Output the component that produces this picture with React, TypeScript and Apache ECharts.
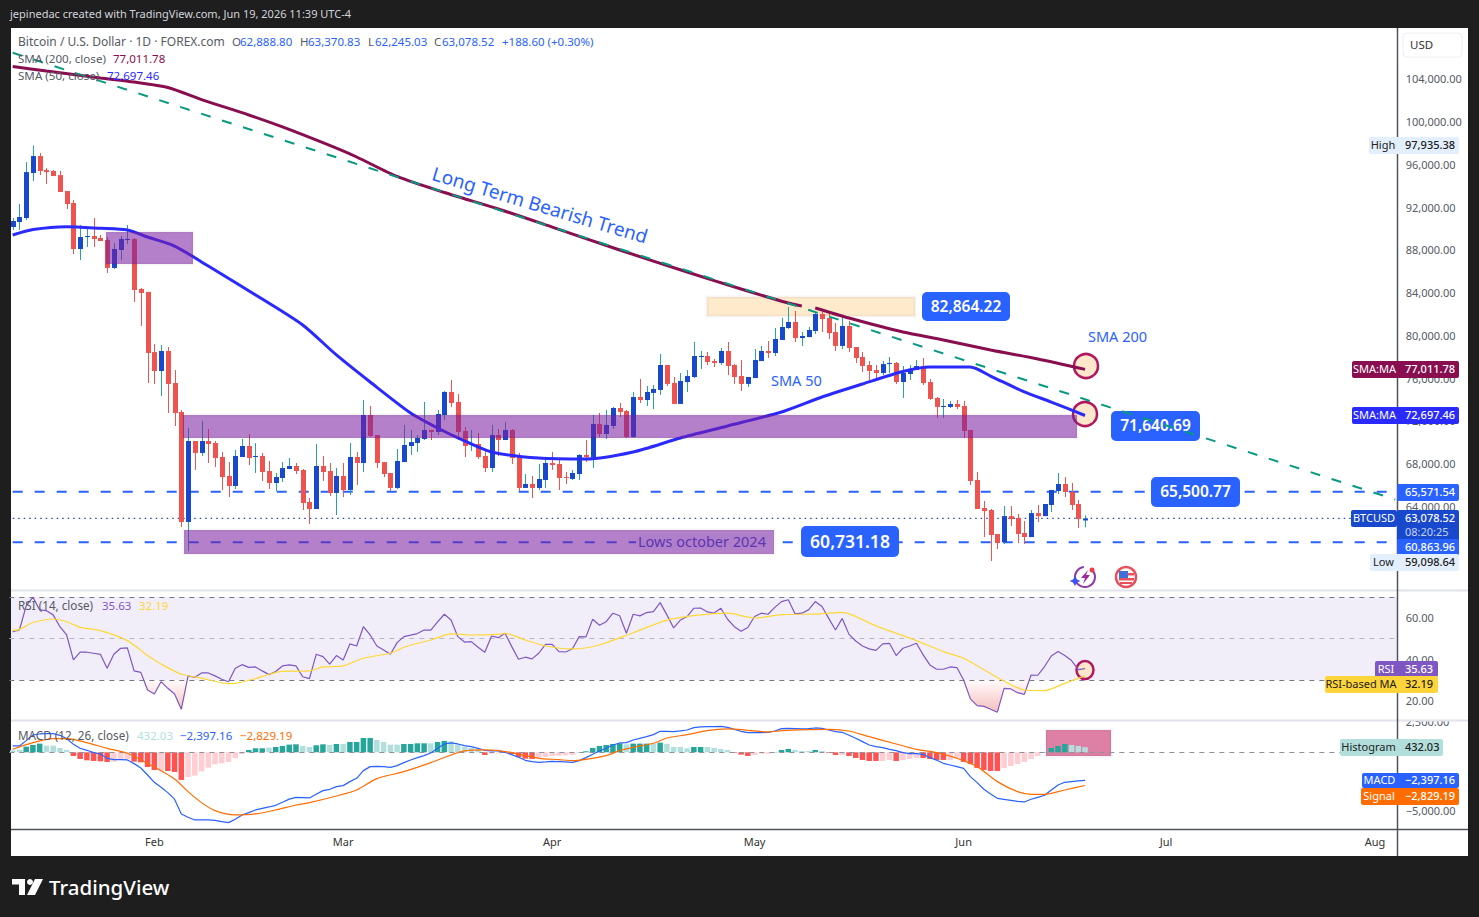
import React, { useEffect, useRef } from "react";
import * as echarts from "echarts";

const FONT = '"Noto Sans", sans-serif';
const UP = "#1848cc";
const DOWN = "#ef5350";
const WICK_UP = "#26a69a";
const BLUE = "#2962ff";
const MAROON = "#880e4f";
const INDIGO = "#2a2aff";
const RSI_C = "#7e57c2";
const YEL = "#fdd835";
const ORANGE = "#ff6d00";
const GREY = "#555a64";

const monthNames = ["Jan", "Feb", "Mar", "Apr", "May", "Jun", "Jul", "Aug"];
const dayCount = 206;
const categories: string[] = Array.from({ length: dayCount }, (_, i) =>
  new Date(Date.UTC(2026, 0, 11 + i)).toISOString().slice(0, 10)
);

const priceTicks = [64000, 68000, 72000, 76000, 80000, 84000, 88000, 92000, 96000, 100000, 104000];
const rsiTicks = [20, 40, 60];
const macdTicks = [-5000, 2500];

// open, high, low, close, in thousands of USD
const ohlc: number[][] = [
  [90.32,91.16,90.04,90.88],[90.78,92.47,90.04,91.25],[91.16,96.39,90.97,95.45],[95.36,97.94,94.62,96.95],
  [96.95,97.23,95.17,95.55],[95.64,95.83,94.33,95.45],[95.55,95.64,95.08,95.08],[95.17,95.55,93.59,93.59],
  [93.68,93.68,92.0,92.47],[92.56,92.84,87.79,88.26],[88.26,90.5,87.23,89.38],[89.38,90.32,88.45,89.48],
  [89.48,91.16,88.45,89.2],[89.29,89.57,89.01,89.01],[89.1,89.38,86.02,86.49],[86.49,88.82,86.39,88.26],
  [88.17,89.48,87.23,89.2],[89.1,90.5,88.73,89.2],[89.2,89.29,83.31,84.43],[84.53,84.62,81.07,84.15],
  [84.25,84.25,75.74,78.54],[78.63,79.38,75.65,76.86],[76.86,79.29,74.52,78.73],[78.73,79.1,72.93,75.65],
  [75.74,76.95,71.72,72.93],[73.03,73.22,62.28,62.75],[62.75,71.53,60.03,70.32],[70.32,70.32,67.61,69.2],
  [69.2,72.19,68.92,70.32],[70.32,71.44,68.26,70.04],[70.13,70.32,67.89,68.73],[68.82,69.29,65.74,66.95],
  [67.05,68.35,65.08,66.11],[66.11,69.48,65.83,68.92],[68.82,70.51,68.82,69.85],[69.85,70.97,68.07,68.73],
  [68.82,70.13,67.33,68.92],[68.92,69.2,66.58,67.42],[67.51,68.45,65.83,66.39],[66.39,67.33,65.64,66.95],
  [66.86,68.35,66.49,67.79],[67.7,68.73,67.7,67.98],[67.98,68.26,67.23,67.51],[67.61,67.7,63.87,64.52],
  [64.62,64.99,62.56,63.96],[63.96,70.04,63.96,67.98],[67.98,68.92,66.58,67.42],[67.51,68.26,65.18,65.46],
  [65.46,67.79,63.4,67.05],[67.05,68.26,65.08,65.74],[65.74,70.13,65.27,68.82],[68.82,69.29,66.2,68.26],
  [68.26,74.15,67.42,72.75],[72.75,73.59,70.69,70.79],[70.88,70.88,67.79,68.26],[68.35,68.35,66.95,67.23],
  [67.33,67.33,65.64,65.93],[65.93,69.57,65.83,68.45],[68.35,71.82,68.35,69.95],[69.85,71.35,69.01,70.22],
  [70.13,70.88,69.29,70.6],[70.51,73.97,70.41,71.35],[71.35,71.35,70.41,71.16],[71.16,73.22,70.88,72.84],
  [72.75,75.0,72.28,74.9],[74.9,76.02,73.5,73.87],[73.97,74.71,70.41,71.16],[71.25,71.63,68.82,69.85],
  [69.95,71.35,69.38,70.04],[70.04,71.07,68.63,68.82],[68.92,69.57,67.42,67.79],[67.79,71.82,67.42,70.88],
  [70.88,71.44,68.92,70.41],[70.41,72.1,70.41,71.35],[71.35,71.44,68.17,68.73],[68.82,69.2,65.64,65.93],
  [65.93,67.23,65.93,66.3],[66.3,67.05,64.99,65.93],[65.93,68.17,65.74,66.77],[66.67,68.54,65.93,68.26],
  [68.26,69.29,67.61,68.07],[68.17,68.63,65.74,66.86],[66.95,67.42,66.3,66.86],[66.77,67.61,66.67,67.33],
  [67.23,69.1,66.67,69.01],[69.01,70.41,68.35,68.82],[68.82,72.75,67.79,71.91],[71.91,72.93,70.69,70.97],
  [70.97,73.22,70.51,71.82],[71.72,73.5,71.44,73.4],[73.4,73.87,72.56,73.03],[73.12,73.22,70.6,70.69],
  [70.69,74.9,70.6,74.43],[74.43,76.11,73.87,74.15],[74.15,75.46,73.59,74.9],[74.81,75.55,73.31,75.18],
  [75.09,78.45,74.62,77.42],[77.42,77.42,75.46,75.65],[75.74,76.3,73.78,73.78],[73.78,76.67,73.78,75.93],
  [75.83,76.95,74.9,76.39],[76.3,79.57,76.2,78.26],[78.17,78.73,77.05,78.26],[78.26,78.63,77.42,77.7],
  [77.79,77.98,77.23,77.61],[77.61,79.01,77.42,78.73],[78.73,79.57,76.48,77.33],[77.42,77.51,75.65,76.3],
  [76.39,77.89,74.99,75.65],[75.65,76.3,75.37,76.3],[76.2,78.91,76.2,77.89],[77.79,79.2,77.79,78.73],
  [78.73,79.66,78.07,78.54],[78.54,80.88,78.26,79.85],[79.76,81.82,79.76,80.97],[80.88,82.84,80.78,81.44],
  [81.44,82.47,79.57,79.94],[79.94,80.5,79.2,80.13],[80.03,80.97,80.03,80.69],[80.6,82.38,80.32,82.19],
  [82.19,82.38,80.5,81.72],[81.82,82.19,79.85,80.41],[80.5,81.35,78.73,79.2],[79.2,82.1,78.91,81.07],
  [81.07,81.54,78.63,79.01],[79.1,79.1,77.61,78.07],[78.17,78.63,76.76,77.33],[77.42,77.79,76.02,76.86],
  [76.95,77.42,76.11,76.67],[76.67,77.79,76.48,77.51],[77.51,78.17,76.67,77.61],[77.61,77.7,75.65,75.83],
  [75.83,77.33,74.34,76.67],[76.58,77.42,76.02,77.05],[76.95,77.89,76.95,77.33],[77.33,78.07,75.55,75.74],
  [75.83,76.11,74.15,74.25],[74.34,74.43,72.47,73.5],[73.5,74.25,72.47,73.59],[73.5,74.06,73.4,73.78],
  [73.78,74.15,73.31,73.5],[73.59,74.06,70.6,71.26],[71.35,71.35,66.2,66.58],[66.67,67.42,63.96,63.96],
  [64.06,64.71,61.34,63.77],[63.87,63.96,59.1,61.53],[61.63,61.63,60.22,60.78],[60.87,64.24,60.69,63.3],
  [63.3,64.24,62.37,63.02],[63.12,63.5,60.78,61.63],[61.72,62.84,60.69,61.34],[61.34,63.87,61.34,63.58],
  [63.58,64.34,62.75,63.3],[63.3,64.43,63.3,64.43],[64.34,65.74,63.68,65.74],[65.64,67.33,65.37,66.3],
  [66.3,66.95,65.08,65.55],[65.55,66.39,63.87,64.34],[64.43,64.8,62.19,63.02],[62.89,63.37,62.25,63.08],
];

// [day index, value in thousands of USD]
const sma200: (number | null)[][] = [
  [0,105.32],[5,104.9],[13,104.25],[18,103.87],[23,103.36],[28,102.23],[35,100.79],[40,99.67],[47,97.94],[51,96.86],
  [57,95.04],[64,93.54],[72,92.0],[80,90.31],[90,88.17],[100,86.11],[108,84.52],[115,83.21],[117,82.93],[118,null],
  [119,82.75],[124,81.81],[132,80.5],[138,79.76],[145,78.82],[152,77.98],[159,77.01],
];
const sma50: number[][] = [
  [0,89.57],[3,90.08],[8,90.35],[13,90.2],[17,90.04],[20,89.38],[24,88.54],[29,86.67],[37,83.59],[43,81.16],[48,78.36],
  [53,75.83],[59,72.93],[63,71.53],[67,70.32],[71,69.29],[78,68.73],[85,68.64],[92,69.29],[99,70.6],[106,71.72],
  [114,73.03],[120,74.43],[126,75.65],[132,76.81],[136,77.23],[142,77.23],[145,76.39],[150,74.9],[154,73.96],[159,72.7],
];
const trendLine = [[0,106.6],[205,64.85]];
const levelHigh = 65.57154;
const levelLow = 60.86396;
const lastClose = 63.07852;

const rsi = [
  53.4,54.2,65.8,70.0,63.9,63.5,61.5,55.8,51.8,39.8,43.5,43.5,43,42.5,35.8,42.5,45.4,45.6,34.5,33.8,
  25.3,23.4,29.3,26.1,23.4,16,32.1,31.4,33.5,33.5,32.1,30.5,29.3,35.8,37.5,36.2,36.4,34.5,32.7,34.2,
  36.9,37.4,36.9,31.7,30.8,42.5,41.4,37.8,41.9,39.8,47.5,46.5,55.8,51.8,46.5,44.6,42.5,48.1,51,51.7,
  52.5,54.2,54.1,58.1,61.8,59,51,48.4,48.6,45.9,43.5,51.3,50.5,52.6,46.2,40.1,41.1,40.3,43,47.3,
  47.3,43.8,43.6,45.2,51,50.9,59.4,56.5,58.2,62.3,61.1,52.6,61.8,61,62.6,63.1,67.4,61.5,55.2,59,
  60.7,64.7,64.8,62.9,62.4,64.7,59.4,55.8,53.6,55.4,60.7,62.3,61.8,65.1,67.9,68.8,62,62.3,63.9,67.9,
  65.5,59.8,54.2,59.8,52.1,48.9,46.5,45.1,44.4,47.5,47.8,41.9,45.4,46.5,47.8,42.2,37.4,35.3,35.3,36.4,
  36.1,30.1,21,17.8,17.4,16,14.6,26.1,25.8,24,23.2,32.5,32.4,36.6,41.7,43.8,41.9,39.5,35.1,35.63,
];
const rsiMa: number[][] = [
  [0,53.9],[1,54.5],[3,57.8],[6,59.5],[8,58.2],[10,55.5],[13,53.9],[17,49.1],[20,41.9],[22,37.8],[25,32.9],[28,31],
  [32,28.4],[33,28.5],[36,30.8],[38,32.9],[40,34.3],[44,34.5],[46,36.4],[49,36.9],[52,40.6],[56,43],[58,45.9],
  [62,49.4],[65,52.3],[68,51.8],[72,52.1],[73,52.6],[76,49.4],[79,46.5],[83,45.1],[87,47],[92,52.9],[97,59],[102,61.5],
  [106,62.3],[110,60],[114,61.6],[119,61.9],[123,62.7],[128,56.2],[134,49.1],[138,43.8],[141,40.6],[146,31.3],
  [150,25.3],[153,25],[156,28.5],[159,32.19],
];

const histogram = [
  170,227,483,625,738,568,568,369,199,-312,-568,-681,-738,-767,-823,-795,-653,-596,-795,-852,
  -1249,-1505,-1561,-1590,-1675,-2356,-2101,-1987,-1618,-1306,-1022,-937,-823,-511,-142,199,341,341,397,454,
  539,653,681,539,454,596,681,625,710,710,880,880,1221,1221,1050,880,653,653,710,710,
  767,767,767,880,965,937,681,483,369,256,-227,-114,-85,28,-142,-426,-539,-568,-454,-397,
  -312,-284,-256,-227,28,85,369,539,625,710,767,681,738,738,738,738,823,710,454,454,
  341,454,454,454,369,284,199,-57,-199,-312,-227,-114,-114,28,199,284,199,114,114,199,
  114,-57,-227,-227,-312,-483,-653,-738,-738,-738,-653,-738,-653,-568,-483,-483,-568,-653,-653,-653,
  -511,-823,-994,-1334,-1505,-1590,-1590,-1334,-1164,-994,-823,-568,-312,28,369,539,710,625,539,432.03,
];
// T rising above zero, P falling above zero, R falling below zero, r rising below zero
const histogramKinds =
  "PPTTTPPPPRRRRRRrrrRRRRrRRRrrrrrrrrrTTTPTTTTPPTTPTPTTTTPPPPTTTTPTTPPPPPRrr" +
  "TRRRRrrrrrrTTTTTTTPTTTPTPPPPTTPPPPRRRrrrTTTPPPTPRRrRRRRRrrRrrrRRRRrrRRRRRRrrrrrrTTTTPPP";
const macdLine = [
  539,539,994,1476,1561,1590,1590,1448,1164,681,341,170,-28,-142,-511,-625,-625,-653,-965,-1334,
  -1931,-2555,-2981,-3435,-3990,-5252,-5536,-5763,-5763,-5763,-5792,-5905,-5990,-5706,-5337,-5138,-4911,-4770,-4656,-4514,
  -4259,-3990,-3833,-3861,-3890,-3577,-3265,-3151,-2924,-2839,-2498,-2214,-1561,-1221,-1192,-1221,-1278,-1136,-880,-653,
  -454,-284,-57,341,710,795,710,568,483,341,170,114,114,0,-199,-426,-681,-795,-852,-823,
  -767,-795,-823,-852,-710,-454,-170,114,341,625,795,823,1050,1192,1334,1505,1789,1789,1760,1817,
  1902,2101,2158,2186,2186,2214,2129,1959,1789,1675,1675,1675,1703,1817,2016,2044,2016,1987,2016,2072,
  2044,1902,1760,1703,1448,1192,908,625,483,397,256,142,-28,-114,-114,-170,-454,-681,-937,-1079,
  -1221,-1363,-2072,-2583,-3151,-3549,-3918,-4003,-4088,-4173,-4230,-4003,-3833,-3662,-3208,-2782,-2555,-2498,-2441,-2397.16,
];
const signalLine: number[][] = [
  [0,256],[3,823],[6,1164],[8,1164],[11,823],[14,341],[17,-85],[20,-937],[24,-2271],[26,-3350],[28,-4287],[30,-4968],
  [33,-5337],[36,-5252],[39,-4911],[42,-4486],[44,-4287],[48,-3719],[51,-3208],[54,-2243],[58,-1647],[62,-880],[65,-227],
  [67,114],[70,199],[72,142],[74,-28],[76,-284],[78,-511],[81,-625],[83,-710],[85,-596],[88,-284],[90,142],[92,426],
  [95,767],[97,1221],[100,1505],[103,1845],[106,1987],[109,1874],[112,1732],[114,1845],[118,1931],[121,1959],[124,1817],
  [127,1334],[131,710],[134,256],[137,-28],[140,-511],[143,-1221],[146,-2498],[149,-3350],[151,-3577],[153,-3577],
  [156,-3208],[159,-2829.19],
];

const histColor: Record<string, string> = { T: "#26a69a", P: "#b2dfdb", R: "#ff5252", r: "#ffcdd2" };
const k = (pts: (number | null)[][]) => pts.map(([i, v]) => [i, v == null ? null : v * 1000]);

function txt(x: number, y: number, text: string, fill: string, size = 12, extra: any = {}) {
  const { align = "left", weight = "normal", z = 70, rotation } = extra;
  return {
    type: "text", x, y: y - 1, z, silent: true, rotation,
    style: { text, fill, fontFamily: FONT, fontSize: size, fontWeight: weight, align, verticalAlign: "middle" },
  };
}
function box(x: number, y: number, w: number, h: number, fill: string, z = 60, r = 0, extra: any = {}) {
  return { type: "rect", z, silent: true, shape: { x, y, width: w, height: h, r }, style: { fill, ...extra } };
}
function hline(x1: number, y1: number, x2: number, y2: number, stroke: string, lineWidth = 1, z = 55) {
  return { type: "line", z, silent: true, shape: { x1, y1, x2, y2 }, style: { stroke, lineWidth } };
}
function tag(left: number, right: number, top: number, h: number, fill: string, lt: string, rt: string, color = "#fff") {
  return [
    box(left, top, right - left, h, fill, 72, 2),
    txt((left + 1397) / 2, top + h / 2, lt, color, 11, { align: "center", z: 73 }),
    txt(1405, top + h / 2, rt, color, 11, { z: 73, weight: 500 }),
  ];
}
function callout(x: number, y: number, w: number, h: number, text: string, size = 15.5) {
  return [box(x, y, w, h, BLUE, 45, 5), txt(x + w / 2, y + h / 2, text, "#fff", size, { align: "center", z: 46, weight: 600 })];
}
function zone(x: number, y: number, w: number, h: number, fill: string, z = 40) {
  return box(x, y, w, h, fill, z, 0, { stroke: "rgba(0,0,0,0.04)", lineWidth: 3 });
}
function ringMark(cx: number, cy: number) {
  return {
    type: "circle", z: 1, silent: true, shape: { cx, cy, r: 12 },
    style: { fill: "#fde8cc", stroke: "#b0195f", lineWidth: 2.5 },
  };
}

const ZONE = "rgba(123,31,162,0.57)";

const graphicElements: any[] = [
  box(11, 28, 1457, 828, "#ffffff", -10),
  box(11, 597, 1386, 83, "rgba(126,87,194,0.1)", 0),
  zone(707, 297, 208, 19, "rgba(255,152,0,0.2)", 0),
  zone(1046, 730, 65, 26, "rgba(194,24,91,0.55)", 1),
  zone(106, 232, 87, 32, ZONE),
  zone(183, 415, 894, 23, ZONE),
  zone(184, 530, 590, 24, ZONE),
  box(636, 534, 136, 16, "#b07fca", 45),
  ringMark(1086, 366), ringMark(1085, 414),
  { type: "ellipse", z: 1, silent: true, shape: { cx: 1085, cy: 670, rx: 8.5, ry: 9 }, style: { fill: "#fde8cc", stroke: "#b0195f", lineWidth: 2.5 } },

  hline(11, 590.5, 1468, 590.5, "#e0e3eb", 2),
  box(1398, 708, 70, 12, "#ffffff", 56),
  hline(11, 720.5, 1468, 720.5, "#e0e3eb", 2, 57),
  hline(11, 829.5, 1468, 829.5, "#50535e", 1.5, 57),
  hline(1397.5, 28, 1397.5, 856, "#50535e", 1.5, 58),

  ...callout(922, 292, 88, 29, "82,864.22"),
  ...callout(1111, 411, 89, 30, "71,640.69"),
  ...callout(1151, 477, 89, 30, "65,500.77"),
  ...callout(801, 526, 98, 31, "60,731.18", 17.5),
  txt(540, 206, "Long Term Bearish Trend", BLUE, 19, { align: "center", rotation: -0.29, z: 46 }),
  txt(1088, 337, "SMA 200", BLUE, 14.5),
  txt(771, 381, "SMA 50", BLUE, 14.5),
  txt(638, 542, "Lows october 2024", "#5e35b1", 14.5, { z: 46 }),

  txt(10, 14, "jepinedac created with TradingView.com, Jun 19, 2026 11:39 UTC-4", "#d1d4dc", 11),
  txt(18, 42, "Bitcoin / U.S. Dollar · 1D · FOREX.com", GREY, 12),
  txt(232, 42, "O", GREY, 11.5), txt(240, 42, "62,888.80", BLUE, 11.5),
  txt(300, 42, "H", GREY, 11.5), txt(308, 42, "63,370.83", BLUE, 11.5),
  txt(368, 42, "L", GREY, 11.5), txt(375, 42, "62,245.03", BLUE, 11.5),
  txt(434, 42, "C", GREY, 11.5), txt(442, 42, "63,078.52", BLUE, 11.5),
  txt(502, 42, "+188.60 (+0.30%)", BLUE, 11.5),
  txt(18, 59, "SMA (200, close)", GREY, 11.6), txt(113, 59, "77,011.78", MAROON, 11.5),
  txt(18, 76, "SMA (50, close)", GREY, 11.6), txt(107, 76, "72,697.46", INDIGO, 11.5),
  txt(18, 606, "RSI (14, close)", GREY, 11.7), txt(102, 606, "35.63", RSI_C, 11.5), txt(139, 606, "32.19", YEL, 11.5),
  txt(18, 736, "MACD (12, 26, close)", GREY, 11.7), txt(137, 736, "432.03", "#b2dfdb", 11.5),
  txt(180, 736, "−2,397.16", BLUE, 11.5), txt(240, 736, "−2,829.19", ORANGE, 11.5),

  box(1403, 33, 59, 24, "#ffffff", 60, 4, { stroke: "#eceef2", lineWidth: 1 }),
  txt(1410, 45, "USD", "#333", 11.5, { z: 61 }),

  ...tag(1369, 1459, 137, 17, "#e3effd", "High", "97,935.38", "#222"),
  ...tag(1352, 1459, 361, 17, MAROON, "SMA:MA", "77,011.78"),
  ...tag(1352, 1459, 407, 17, INDIGO, "SMA:MA", "72,697.46"),
  ...tag(1397, 1459, 484, 17, BLUE, "", "65,571.54"),
  box(1351, 510, 46, 17, UP, 72, 2), txt(1374, 518.5, "BTCUSD", "#fff", 11, { align: "center", z: 73 }),
  box(1397, 510, 62, 36, UP, 72, 2), txt(1405, 518.5, "63,078.52", "#fff", 11, { z: 73, weight: 500 }),
  txt(1405, 532, "08:20:25", "#c4d4f5", 11, { z: 73 }),
  ...tag(1397, 1459, 539, 17, BLUE, "", "60,863.96"),
  ...tag(1370, 1459, 554, 17, "#e3effd", "Low", "59,098.64", "#222"),
  ...tag(1375, 1438, 661, 16, RSI_C, "RSI", "35.63"),
  ...tag(1325, 1438, 676, 17, "#fdd43a", "RSI-based MA", "32.19", "#222"),
  ...tag(1340, 1443, 739, 17, "#b2dfdb", "Histogram", "432.03", "#222"),
  ...tag(1362, 1459, 773, 15, BLUE, "MACD", "−2,397.16"),
  ...tag(1361, 1459, 788, 17, ORANGE, "Signal", "−2,829.19"),

  // event icons
  { type: "arc", z: 20, silent: true, shape: { cx: 1085, cy: 577, r: 10, startAngle: -0.6, endAngle: 4.6 }, style: { stroke: "#8e3aa8", lineWidth: 2, fill: "none" } },
  { type: "polygon", z: 21, silent: true, shape: { points: [[1088, 570], [1081, 578], [1085, 578], [1083, 584], [1090, 575], [1086, 575]] }, style: { fill: "#a0279c" } },
  { type: "circle", z: 21, silent: true, shape: { cx: 1092, cy: 570, r: 2.5 }, style: { fill: "#f23645" } },
  { type: "polygon", z: 21, silent: true, shape: { points: [[1075, 576], [1077, 579.5], [1080.5, 581], [1077, 582.5], [1075, 586], [1073, 582.5], [1069.5, 581], [1073, 579.5]] }, style: { fill: "#3f51ee" } },
  { type: "circle", z: 20, silent: true, shape: { cx: 1126, cy: 577, r: 10 }, style: { fill: "#fff", stroke: "#e8505b", lineWidth: 2.5 } },
  box(1119, 573, 15, 2.5, "#e8505b", 21), box(1119, 578, 15, 2.5, "#e8505b", 21), box(1120, 582, 12, 2, "#e8505b", 21),
  box(1119, 571, 9, 7, "#3f6fd8", 22),

  // TradingView logo
  box(12, 879, 13, 5.5, "#ffffff", 70),
  box(19, 879, 6, 16, "#ffffff", 70),
  { type: "circle", z: 70, silent: true, shape: { cx: 30, cy: 882, r: 3 }, style: { fill: "#fff" } },
  { type: "polygon", z: 70, silent: true, shape: { points: [[35, 879], [43, 879], [35, 895], [27, 895]] }, style: { fill: "#fff" } },
  txt(49, 888, "TradingView", "#ffffff", 20.5, { weight: 500 }),
];

const moneyFmt = (v: number) =>
  (v < 0 ? "−" : "") + Math.abs(v).toLocaleString("en-US", { minimumFractionDigits: 2, maximumFractionDigits: 2 });

function yAxis(gridIndex: number, min: number, max: number, ticks: number[], labelLift: number) {
  return {
    type: "value", gridIndex, position: "right", min, max,
    axisLine: { show: false }, axisTick: { show: false }, splitLine: { show: false },
    axisLabel: {
      customValues: ticks, margin: 7, color: GREY, fontFamily: FONT, fontSize: 11,
      formatter: moneyFmt,
      ...(labelLift ? { verticalAlign: "bottom", lineHeight: labelLift * 2 } : {}),
    },
  };
}
function xAxis(gridIndex: number, showLabels: boolean) {
  return {
    type: "category", gridIndex, data: categories, boundaryGap: true,
    axisLine: { show: false }, axisTick: { show: false }, splitLine: { show: false },
    axisLabel: {
      show: showLabels, margin: 7, color: "#333", fontFamily: FONT, fontSize: 11, hideOverlap: false,
      interval: (_: number, value: string) => value.endsWith("-01"),
      formatter: (value: string) => monthNames[Number(value.slice(5, 7)) - 1],
    },
  };
}
const dashedLevel = (name: string, value: number) => ({
  name, type: "line", xAxisIndex: 0, yAxisIndex: 0, symbol: "none", silent: true, z: 3,
  data: [[0, value * 1000], [205, value * 1000]],
  lineStyle: { color: BLUE, width: 2, type: [10, 12] },
});
const refLines = (values: number[], color: string) => ({
  silent: true, symbol: "none", animation: false, label: { show: false },
  data: values.map((yAxis) => ({ yAxis })),
  lineStyle: { color, width: 1, type: [5, 5] },
});

function renderCandle(_: any, api: any) {
  const i = api.value(0);
  const o = api.value(1), h = api.value(2), l = api.value(3), c = api.value(4);
  const x = Math.round(api.coord([i, o])[0]);
  const yo = api.coord([i, o])[1], yh = api.coord([i, h])[1], yl = api.coord([i, l])[1], yc = api.coord([i, c])[1];
  const up = c >= o;
  const top = Math.min(yo, yc);
  return {
    type: "group",
    children: [
      { type: "line", shape: { x1: x + 0.5, y1: yh, x2: x + 0.5, y2: yl }, style: { stroke: up ? WICK_UP : DOWN, lineWidth: 1 } },
      { type: "rect", shape: { x: x - 2, y: top, width: 5, height: Math.max(1, Math.abs(yo - yc)) }, style: { fill: up ? UP : DOWN } },
    ],
  };
}

export default function App() {
  const ref = useRef<HTMLDivElement>(null);
  useEffect(() => {
    document.body.style.margin = "0";
    document.body.style.background = "#1e1e1e";
    const chart = echarts.init(ref.current!, undefined, { renderer: "svg" });
    chart.setOption({
      animation: false,
      backgroundColor: "#1e1e1e",
      textStyle: { fontFamily: FONT },
      grid: [
        { left: 9.33, width: 1389.3, top: 28, height: 562 },
        { left: 9.33, width: 1389.3, top: 591, height: 129 },
        { left: 9.33, width: 1389.3, top: 721, height: 108 },
      ],
      xAxis: [xAxis(0, false), xAxis(1, false), xAxis(2, true)],
      yAxis: [
        yAxis(0, 56392, 108917, priceTicks, 2),
        yAxis(1, 10.84, 73, rsiTicks, 0),
        yAxis(2, -6533, 2666, macdTicks, 1),
      ],
      graphic: { elements: graphicElements },
      series: [
        dashedLevel("Level high", levelHigh),
        dashedLevel("Level low", levelLow),
        {
          name: "Last", type: "line", xAxisIndex: 0, yAxisIndex: 0, symbol: "none", silent: true, z: 3,
          data: [[0, lastClose * 1000], [205, lastClose * 1000]],
          lineStyle: { color: UP, width: 1.2, type: [1.5, 4] },
        },
        {
          name: "BTCUSD", type: "custom", xAxisIndex: 0, yAxisIndex: 0, z: 4, renderItem: renderCandle,
          encode: { x: 0, y: [1, 2, 3, 4] },
          data: ohlc.map((r, i) => [i, r[0] * 1000, r[1] * 1000, r[2] * 1000, r[3] * 1000]),
        },
        {
          name: "SMA 200", type: "line", xAxisIndex: 0, yAxisIndex: 0, symbol: "none", smooth: 0.25, z: 5, connectNulls: false,
          data: k(sma200), lineStyle: { color: MAROON, width: 3 },
        },
        {
          name: "SMA 50", type: "line", xAxisIndex: 0, yAxisIndex: 0, symbol: "none", smooth: 0.25, z: 5,
          data: k(sma50), lineStyle: { color: INDIGO, width: 3 },
        },
        {
          name: "Trend", type: "line", xAxisIndex: 0, yAxisIndex: 0, symbol: "none", z: 50,
          data: k(trendLine), lineStyle: { color: "#089981", width: 2, type: [10, 12] },
        },
        {
          name: "RSI oversold", type: "line", xAxisIndex: 1, yAxisIndex: 1, symbol: "none", z: 3,
          data: rsi.map((v, i) => [i, Math.min(v, 30)]),
          lineStyle: { width: 0 },
          areaStyle: {
            origin: 30,
            color: new echarts.graphic.LinearGradient(0, 0, 0, 1, [
              { offset: 0, color: "rgba(255,82,82,0.03)" },
              { offset: 1, color: "rgba(214,90,90,0.55)" },
            ]),
          },
        },
        {
          name: "RSI", type: "line", xAxisIndex: 1, yAxisIndex: 1, symbol: "none", z: 5,
          data: rsi.map((v, i) => [i, v]), lineStyle: { color: RSI_C, width: 1.2 },
          markLine: { ...refLines([70, 30], "#787b86") },
        },
        {
          name: "RSI 50", type: "line", xAxisIndex: 1, yAxisIndex: 1, symbol: "none", z: 2,
          data: [], markLine: { ...refLines([50], "#b8b6c2") },
        },
        {
          name: "RSI MA", type: "line", xAxisIndex: 1, yAxisIndex: 1, symbol: "none", smooth: 0.25, z: 5,
          data: rsiMa, lineStyle: { color: YEL, width: 1.2 },
        },
        {
          name: "Histogram", type: "bar", xAxisIndex: 2, yAxisIndex: 2, barWidth: 5.5, z: 3,
          data: histogram.map((v, i) => ({ value: [i, v], itemStyle: { color: histColor[histogramKinds[i]] || "#b2dfdb" } })),
          markLine: { ...refLines([0], "#8f929b") },
        },
        {
          name: "MACD", type: "line", xAxisIndex: 2, yAxisIndex: 2, symbol: "none", z: 5,
          data: macdLine.map((v, i) => [i, v]), lineStyle: { color: BLUE, width: 1.2 },
        },
        {
          name: "Signal", type: "line", xAxisIndex: 2, yAxisIndex: 2, symbol: "none", smooth: 0.25, z: 5,
          data: signalLine, lineStyle: { color: ORANGE, width: 1.2 },
        },
      ],
    });
    return () => chart.dispose();
  }, []);
  return <div ref={ref} style={{ width: 1479, height: 917 }} />;
}
